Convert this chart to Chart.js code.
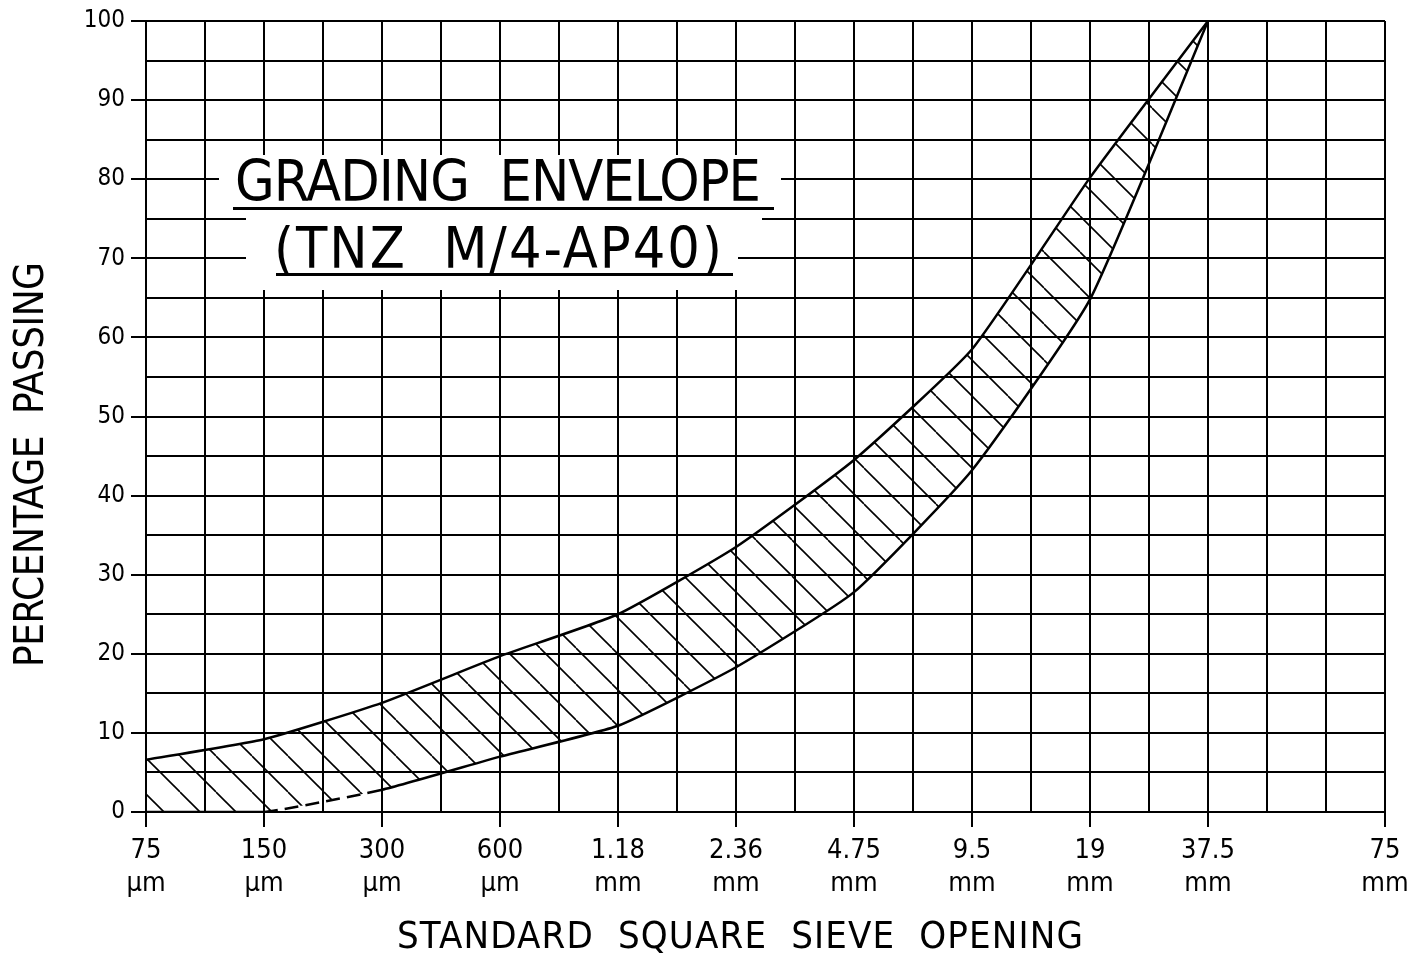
<!DOCTYPE html>
<html lang="en">
<head>
    <meta charset="UTF-8">
    <title>Grading Envelope (TNZ M/4-AP40)</title>
    <script src="https://cdn.jsdelivr.net/npm/chart.js"></script>
    <style>
        body {
            margin: 0;
            background: #fff;
        }
        canvas {
            display: block;
        }
    </style>
</head>
<body>
    <canvas id="gradingChart" width="1421" height="955"></canvas>

    <script>
        // sieve sizes along the bottom, and where each one sits on the grid (in grid columns)
        const sieveLabels = [['75', 'µm'], ['150', 'µm'], ['300', 'µm'], ['600', 'µm'], ['1.18', 'mm'],
            ['2.36', 'mm'], ['4.75', 'mm'], ['9.5', 'mm'], ['19', 'mm'], ['37.5', 'mm'], ['75', 'mm']];
        const sieveSteps = [0, 2, 4, 6, 8, 10, 12, 14, 16, 18, 21];

        // envelope limits, % passing, 75um .. 37.5mm
        const upperLimit = [6.6, 9.2, 13.8, 19.7, 25.0, 33.5, 44.5, 58.5, 80.2, 100];
        const lowerLimit = [0, 0, 2.8, 7.0, 10.9, 18.3, 27.8, 43.2, 64.8, 100];

        const titleLines = ['GRADING  ENVELOPE', '(TNZ  M/4-AP40)'];
        const xTitle = 'STANDARD  SQUARE  SIEVE  OPENING';
        const yTitle = 'PERCENTAGE  PASSING';

        const FONT = '"DejaVu Sans Condensed", "DejaVu Sans", sans-serif';

        function toPoints(values) {
            return values.map((v, i) => ({ x: sieveSteps[i], y: v }));
        }

        // diagonal "\" hatching for the envelope
        function hatchPattern() {
            const size = 36;
            const c = document.createElement('canvas');
            c.width = size;
            c.height = size;
            const g = c.getContext('2d');
            g.strokeStyle = '#000';
            g.lineWidth = 1.6;
            [-size, 0, size].forEach(k => {
                g.beginPath();
                g.moveTo(k, 0);
                g.lineTo(k + size, size);
                g.stroke();
            });
            return g.createPattern(c, 'repeat');
        }

        // draws text spread out to a given width (drawing-office lettering is widely spaced)
        function spacedText(ctx, text, x, y, width) {
            ctx.letterSpacing = '0px';
            const w0 = ctx.measureText(text).width;
            const gap = (width - w0) / (text.length - 1);
            ctx.letterSpacing = gap + 'px';
            ctx.textAlign = 'left';
            ctx.fillText(text, x, y);
            ctx.letterSpacing = '0px';
        }

        const lettering = {
            id: 'lettering',
            afterDraw(chart) {
                const ctx = chart.ctx;
                const xs = chart.scales.x;
                const ys = chart.scales.y;
                const cx = Math.round(xs.getPixelForValue(6)) - 2;
                ctx.save();
                ctx.fillStyle = '#000';
                ctx.textBaseline = 'alphabetic';

                // title block, blanked out of the grid
                const base1 = Math.round(ys.getPixelForValue(77.2));
                const base2 = Math.round(ys.getPixelForValue(68.8));
                ctx.fillStyle = '#fff';
                ctx.fillRect(cx - 279, base1 - 46, 562, 63);
                ctx.fillRect(cx - 252, base1 + 16, 516, 26);
                ctx.fillRect(cx - 252, base1 + 41, 492, base2 - base1 - 19);
                ctx.fillStyle = '#000';
                ctx.font = '57px ' + FONT;
                spacedText(ctx, titleLines[0], cx - 263, base1, 526);
                spacedText(ctx, titleLines[1], cx - 224, base2, 448);
                ctx.fillRect(cx - 265, base1 + 6, 541, 3);
                ctx.fillRect(cx - 222, base2 + 5, 457, 3);

                // axis titles
                ctx.font = '38px ' + FONT;
                spacedText(ctx, xTitle, 397, 948, 686);
                ctx.font = '40px ' + FONT;
                ctx.translate(43, 667);
                ctx.rotate(-Math.PI / 2);
                spacedText(ctx, yTitle, 0, 0, 405);
                ctx.restore();
            }
        };

        const ctx = document.getElementById('gradingChart').getContext('2d');
        new Chart(ctx, {
            type: 'line',
            data: {
                datasets: [{
                    label: 'Lower limit',
                    data: toPoints(lowerLimit),
                    borderColor: '#000',
                    borderWidth: 2.5,
                    pointRadius: 0,
                    tension: 0.15,
                    fill: false,
                    segment: {
                        // 150um -> 300um part of the lower limit is dashed
                        borderDash: c => c.p0DataIndex === 1 ? [14, 7] : undefined
                    }
                }, {
                    label: 'Upper limit',
                    data: toPoints(upperLimit),
                    borderColor: '#000',
                    borderWidth: 2.5,
                    pointRadius: 0,
                    tension: 0.15,
                    fill: '-1',
                    backgroundColor: hatchPattern()
                }]
            },
            options: {
                responsive: false,
                animation: false,
                layout: {
                    padding: { left: 0, top: 21, right: 36, bottom: 0 }
                },
                plugins: {
                    legend: { display: false },
                    tooltip: { enabled: false }
                },
                scales: {
                    x: {
                        type: 'linear',
                        min: 0,
                        max: 21,
                        afterFit: s => { s.height = 143; },
                        border: { display: true, color: '#000', width: 2 },
                        grid: {
                            color: '#000',
                            lineWidth: 2,
                            tickLength: 15,
                            tickColor: c => sieveSteps.includes(c.tick.value) ? '#000' : 'rgba(0,0,0,0)'
                        },
                        ticks: {
                            stepSize: 1,
                            autoSkip: false,
                            maxRotation: 0,
                            padding: 8,
                            color: '#000',
                            font: { family: FONT, size: 27, lineHeight: 1.2 },
                            callback: v => {
                                const i = sieveSteps.indexOf(v);
                                return i >= 0 ? sieveLabels[i] : '';
                            }
                        }
                    },
                    y: {
                        min: 0,
                        max: 100,
                        afterFit: s => { s.width = 146; },
                        border: { display: true, color: '#000', width: 2 },
                        grid: {
                            color: '#000',
                            lineWidth: 2,
                            tickLength: 15,
                            tickColor: c => c.tick.value % 10 === 0 ? '#000' : 'rgba(0,0,0,0)'
                        },
                        ticks: {
                            stepSize: 5,
                            padding: 6,
                            color: '#000',
                            font: { family: FONT, size: 24 },
                            callback: v => v % 10 === 0 ? v : ''
                        }
                    }
                }
            },
            plugins: [lettering]
        });
    </script>
</body>
</html>
